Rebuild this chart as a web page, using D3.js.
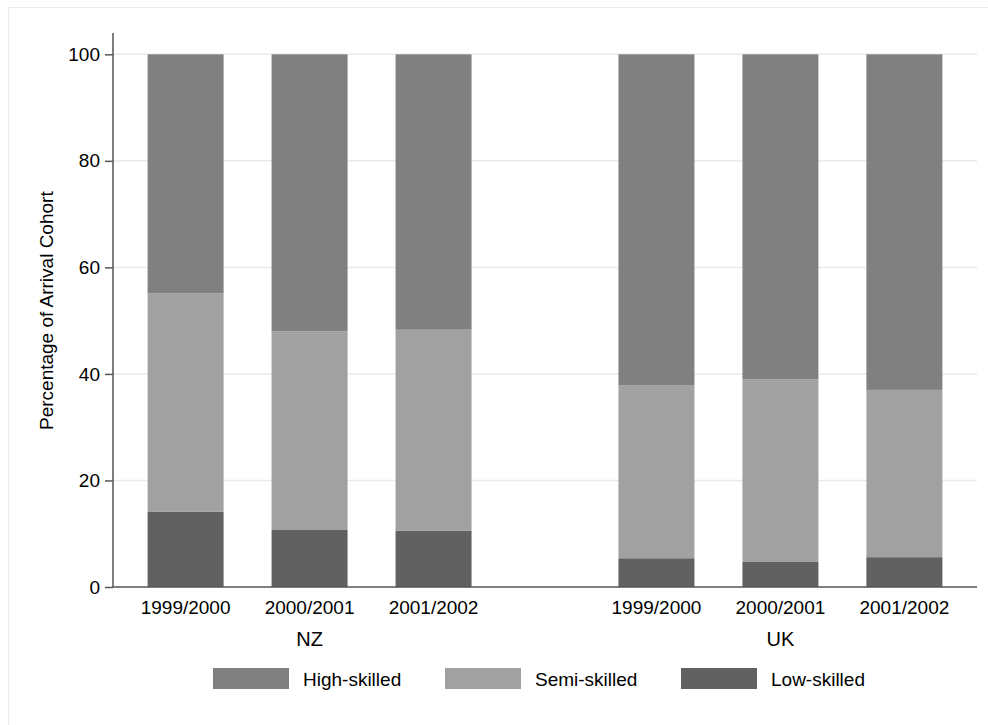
<!DOCTYPE html>
<html>
<head>
<meta charset="utf-8">
<script src="https://cdn.jsdelivr.net/npm/d3@7"></script>
<style>
html,body{margin:0;padding:0;background:#fff;}
svg{display:block;}
text{font-family:"Liberation Sans",Arial,Helvetica,sans-serif;fill:#000;}
</style>
</head>
<body>
<svg id="chart" width="988" height="725"></svg>
<script>
// ---- data ----
const countries = ["NZ", "UK"];
const years = ["1999/2000", "2000/2001", "2001/2002"];
const seriesNames = ["Low-skilled", "Semi-skilled", "High-skilled"];
const lowSkilled  = [14.1, 10.7, 10.6, 5.4, 4.7, 5.6];
const semiSkilled = [41.0, 37.3, 37.7, 32.5, 34.3, 31.4];
const highSkilled = [44.9, 52.0, 51.7, 62.1, 61.0, 63.0];
const yTicks = [0, 20, 40, 60, 80, 100];
const legendOrder = ["High-skilled", "Semi-skilled", "Low-skilled"];
const yTitle = "Percentage of Arrival Cohort";

const colors = {"High-skilled": "#808080", "Semi-skilled": "#a1a1a1", "Low-skilled": "#616161"};

// build table
const rows = [];
countries.forEach((c, ci) => years.forEach((y, yi) => {
  const i = ci * years.length + yi;
  rows.push({country: c, year: y, "Low-skilled": lowSkilled[i], "Semi-skilled": semiSkilled[i], "High-skilled": highSkilled[i]});
}));

const svg = d3.select("#chart");
// faint outer frame
svg.append("rect").attr("x", 8.5).attr("y", 7.5).attr("width", 990).attr("height", 730)
  .attr("fill", "none").attr("stroke", "#ececec").attr("stroke-width", 1);

const plotL = 113, plotR = 977, plotB = 587, plotT = 33;

const y = d3.scaleLinear().domain([0, 104]).range([plotB, plotT]);
const xOuter = d3.scaleBand().domain(countries).range([plotL, plotR]).paddingInner(0.312).paddingOuter(0.0735);
const xInner = d3.scaleBand().domain(years).range([0, xOuter.bandwidth()]).paddingInner(0.387).paddingOuter(0);

// gridlines
svg.append("g").selectAll("line").data(yTicks.filter(t => t > 0)).join("line")
  .attr("x1", plotL).attr("x2", plotR)
  .attr("y1", d => y(d)).attr("y2", d => y(d))
  .attr("stroke", "#eaeaea").attr("stroke-width", 1.5);

// bars
const stack = d3.stack().keys(seriesNames);
const stacked = stack(rows);
svg.append("g").selectAll("g").data(stacked).join("g")
  .attr("fill", d => colors[d.key])
  .selectAll("rect").data(d => d).join("rect")
  .attr("x", d => xOuter(d.data.country) + xInner(d.data.year))
  .attr("width", xInner.bandwidth())
  .attr("y", d => y(d[1]))
  .attr("height", d => y(d[0]) - y(d[1]));

// y axis
const yAxis = d3.axisLeft(y).tickValues(yTicks).tickSize(8).tickPadding(5).tickFormat(d3.format("d"));
const gy = svg.append("g").attr("transform", `translate(${plotL},0)`).call(yAxis);
gy.select(".domain").attr("stroke", "#555").attr("stroke-width", 1.5).attr("d", `M-0,${plotT}V${plotB}`);
gy.selectAll(".tick line").attr("stroke", "#555").attr("stroke-width", 1.5);
gy.selectAll(".tick text").attr("font-size", 19).attr("font-family", "Liberation Sans, Arial, sans-serif").attr("fill", "#000");

// x axis line
svg.append("line").attr("x1", plotL).attr("x2", plotR).attr("y1", plotB).attr("y2", plotB)
  .attr("stroke", "#555").attr("stroke-width", 1.5);

// x labels
svg.append("g").selectAll("text").data(rows).join("text")
  .attr("x", d => xOuter(d.country) + xInner(d.year) + xInner.bandwidth() / 2)
  .attr("y", 607).attr("dy", "0.35em")
  .attr("text-anchor", "middle").attr("font-size", 19)
  .text(d => d.year);

svg.append("g").selectAll("text").data(countries).join("text")
  .attr("x", d => xOuter(d) + xOuter.bandwidth() / 2)
  .attr("y", 639).attr("dy", "0.35em")
  .attr("text-anchor", "middle").attr("font-size", 20)
  .text(d => d);

// y title
svg.append("text").attr("transform", `translate(46,${(y(100) + y(0)) / 2 - 10}) rotate(-90)`)
  .attr("dy", "0.35em").attr("text-anchor", "middle").attr("font-size", 19)
  .text(yTitle);

// legend
const legX = [213, 445, 681];
const lg = svg.append("g").selectAll("g").data(legendOrder).join("g")
  .attr("transform", (d, i) => `translate(${legX[i]},668)`);
lg.append("rect").attr("width", 76).attr("height", 21).attr("fill", d => colors[d]);
lg.append("text").attr("x", 90).attr("y", 11).attr("dy", "0.35em").attr("font-size", 19).text(d => d);
</script>
</body>
</html>
